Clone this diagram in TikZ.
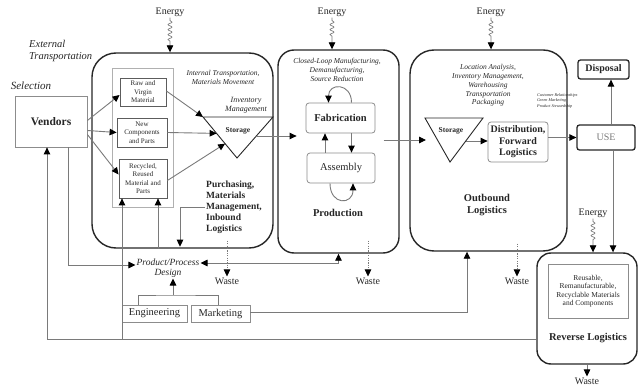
\documentclass[tikz,border=0pt]{standalone}
\usepackage{fontspec}
\setmainfont{Liberation Serif}
\usetikzlibrary{arrows.meta,positioning,calc,decorations.pathmorphing}
\definecolor{Ink}{HTML}{262626}
\definecolor{Wire}{HTML}{7A7A7A}
\definecolor{Frame}{HTML}{8C8C8C}
\definecolor{Faint}{HTML}{B0B0B0}
\tikzset{
  >={Triangle[length=7pt,width=6.5pt,color=black]},
  bigbox/.style={draw=Ink,line width=1.4pt,rounded corners=24pt,inner sep=0pt},
  subbox/.style={draw=Frame,line width=.8pt,align=center,inner sep=1pt,text=Ink,font=\fontsize{7}{8.5}\selectfont},
  softbox/.style={subbox,rounded corners=3pt,font=\fontsize{10.5}{11.5}\selectfont\bfseries},
  darkbox/.style={draw=Ink,line width=1.3pt,rounded corners=2.5pt,inner sep=1pt},
  tag/.style={align=center,inner sep=1pt,text=Ink,font=\fontsize{10}{12}\selectfont},
  note/.style={tag,font=\fontsize{7.5}{8.6}\selectfont\itshape},
  head/.style={tag,font=\fontsize{10.5}{12}\selectfont\bfseries},
  flow/.style={->,draw=Wire,line width=.9pt},
  twoway/.style={<->,draw=Wire,line width=.9pt},
  wire/.style={draw=Wire,line width=.9pt},
  wasteflow/.style={flow,line width=.6pt,dash pattern=on 1.2pt off 1.2pt},
  energyflow/.style={->,draw=Wire,line width=.7pt,decorate,
    decoration={snake,amplitude=2pt,segment length=5pt,pre length=3pt,post length=11pt}},
  plainline/.style={draw=Ink,line width=.9pt}
}
\begin{document}
\begin{tikzpicture}[x=1pt,y=-1pt]
\useasboundingbox (0,0) rectangle (644,387);
% the four stages
\node[bigbox,minimum width=181pt,minimum height=195pt] (purch) at (182.5,150.5) {};
\node[bigbox,rounded corners=16pt,minimum width=121pt,minimum height=203pt] (prod) at (338.5,151.5) {};
\node[bigbox,minimum width=157pt,minimum height=201pt] (outb) at (488.5,150.5) {};
\node[bigbox,rounded corners=14pt,minimum width=100pt,minimum height=111pt] (rev) at (587,308.5) {};

% vendors and materials
\node[subbox,font=\fontsize{11.5}{13}\selectfont\bfseries,minimum width=72pt,minimum height=51pt] (vendors) at (51,121.5) {Vendors};
\node[tag,font=\fontsize{11}{12}\selectfont\itshape] (select) at (31,86) {Selection};
\node[tag,anchor=west,align=left,font=\fontsize{10.5}{12}\selectfont\itshape] (extern) at (28,51) {External\\Transportation};
\node[draw=Faint,line width=.6pt,minimum width=61pt,minimum height=139pt] (mats) at (142.5,137.5) {};
\node[subbox,draw=Ink!75,minimum width=46pt,minimum height=28pt] (raw) at (143,92) {Raw and\\Virgin\\Material};
\node[subbox,draw=Ink!75,minimum width=50pt,minimum height=29pt] (newc) at (142,132.5) {New\\Components\\and Parts};
\node[subbox,draw=Ink!75,minimum width=48pt,minimum height=39pt] (recyc) at (143,178.5) {Recycled,\\Reused\\Material and\\Parts};
\node[note] (inttr) at (223,77.5) {Internal Transportation,\\Materials Movement};
\node[note,font=\fontsize{8}{9}\selectfont\itshape] (invm) at (246,105.5) {Inventory\\Management};
\coordinate (s1l) at (203,117);
\coordinate (s1r) at (273,117);
\coordinate (s1b) at (237,158);
\draw[plainline] (s1l) -- (s1r) -- (s1b) -- cycle;
\node[tag,font=\fontsize{7.5}{9}\selectfont\bfseries] (stor1) at (238,131) {Storage};
\node[tag,anchor=west,align=left,font=\fontsize{9.5}{11}\selectfont\bfseries] (purchtxt) at (205,207) {Purchasing,\\Materials\\Management,\\Inbound\\Logistics};

% production
\node[note] (closed) at (337,70) {Closed-Loop Manufacturing,\\Demanufacturing,\\Source Reduction};
\node[softbox,minimum width=69pt,minimum height=30pt] (fab) at (340.5,118) {Fabrication};
\node[softbox,font=\fontsize{10.5}{12}\selectfont,minimum width=68pt,minimum height=30pt] (asm) at (341,168) {Assembly};
\node[head] (prodtxt) at (338,213) {Production};

% outbound
\node[note,font=\fontsize{7.5}{8.8}\selectfont\itshape] (locan) at (488,85.5) {Location Analysis,\\Inventory Management,\\Warehousing\\Transportation\\Packaging};
\coordinate (s2l) at (425,118);
\coordinate (s2r) at (483,118);
\coordinate (s2b) at (450,162);
\draw[plainline] (s2l) -- (s2r) -- (s2b) -- cycle;
\node[tag,font=\fontsize{7.5}{9}\selectfont\bfseries] (stor2) at (451,131) {Storage};
\node[softbox,font=\fontsize{10}{11.5}\selectfont\bfseries,minimum width=60pt,minimum height=40pt] (distr) at (518,142) {Distribution,\\Forward\\Logistics};
\node[head] (outbtxt) at (487,205.5) {Outbound\\Logistics};

% use, disposal, reverse logistics
\node[darkbox,minimum width=58pt,minimum height=25pt,text=Wire,font=\fontsize{10}{12}\selectfont] (use) at (606,137.5) {USE};
\node[darkbox,minimum width=51pt,minimum height=19pt,text=Ink,font=\fontsize{10}{12}\selectfont\bfseries] (disp) at (603.5,69.5) {Disposal};
\node[tag,anchor=west,align=left,font=\fontsize{4.2}{5.5}\selectfont\itshape] (cust) at (536,100.5) {Customer Relationships\\Green Marketing\\Product Stewardship};
\node[subbox,font=\fontsize{7.5}{8.5}\selectfont,minimum width=80pt,minimum height=54pt] (revin) at (588,291) {Reusable,\\Remanufacturable,\\Recyclable Materials\\and Components};
\node[head] (revtxt) at (588,338) {Reverse Logistics};

% design, engineering, marketing
\node[tag,font=\fontsize{9.5}{10}\selectfont\itshape] (design) at (168,268) {Product/Process\\Design};
\node[subbox,font=\fontsize{10.5}{12}\selectfont,minimum width=65pt,minimum height=17pt] (eng) at (154.5,313.5) {Engineering};
\node[subbox,font=\fontsize{10.5}{12}\selectfont,minimum width=59pt,minimum height=17pt] (mkt) at (220.5,313.5) {Marketing};
\coordinate (brk) at (173,295);

% energy and waste
\node[tag] (en1) at (170,12) {Energy};
\node[tag] (en2) at (332,12) {Energy};
\node[tag] (en3) at (491,12) {Energy};
\node[tag] (en4) at (593,213) {Energy};
\draw[energyflow] (en1.south) -- (en1.south |- purch.north);
\draw[energyflow] (en2.south) -- (en2.south |- prod.north);
\draw[energyflow] (en3.south) -- (en3.south |- outb.north);
\draw[energyflow] (en4.south) -- (en4.south |- rev.north);
\node[tag] (w1) at (227,281) {Waste};
\node[tag] (w2) at (368,281) {Waste};
\node[tag] (w3) at (517,281) {Waste};
\node[tag] (w4) at (587,381) {Waste};
\draw[wasteflow] ($(w1 |- purch.south)+(0,-8)$) -- (w1.north);
\draw[wasteflow] ($(w2 |- prod.south)+(0,-13)$) -- (w2.north);
\draw[wasteflow] ($(w3 |- outb.south)+(0,-8)$) -- (w3.north);
\draw[flow] (rev.south) -- (w4.north);

% material flow
\draw[flow] ([yshift=1pt]vendors.east) -- ([yshift=-3pt]raw.west);
\draw[flow] ([yshift=-9pt]vendors.east) -- (newc.west);
\draw[flow] ([yshift=-13pt]vendors.east) -- ([yshift=4pt]recyc.west);
\draw[flow] ([yshift=1pt]raw.east) -- (s1l);
\draw[flow] (newc.east) -- ($(s1l)!.4!(s1b)$);
\draw[flow] ([yshift=-2pt]recyc.east) -- ($(s1l)!.65!(s1b)$);
\coordinate (s1out) at (256,136);
\draw[flow] (s1out) -- ([xshift=-9pt]s1out -| fab.west);
\draw[flow] ([xshift=11pt]fab.north) .. controls +(0,-20) and +(0,-20) .. ([xshift=-12pt]fab.north);
\draw[flow] ([xshift=-16pt]asm.north) -- ([xshift=-16pt]asm.north |- fab.south);
\draw[flow] ([xshift=11pt]fab.south) -- ([xshift=11pt]fab.south |- asm.north);
\draw[flow] ([xshift=-11pt]asm.south) .. controls +(0,22) and +(0,22) .. ([xshift=12pt]asm.south);
\coordinate (s2in) at (426,140);
\draw[flow] ([xshift=-16pt]s2in -| prod.east) -- (s2in);
\coordinate (s2out) at (466,141);
\draw[flow] (s2out) -- (s2out -| distr.west);
\draw[flow] (use.west -| distr.east) -- (use.west);
\draw[flow] ([xshift=5pt]use.north) -- ([xshift=5pt]use.north |- disp.south);
\draw[flow] ([xshift=7pt]use.south) -- ([xshift=7pt]use.south |- rev.north);

% design and return loops
\draw[flow] ([xshift=17pt]vendors.south) |- ([yshift=3pt]design.west);
\draw[twoway] ([yshift=5pt]design.east) -| (prod.south);
\draw[flow] (purchtxt.west) -| ([xshift=-2.5pt,yshift=2pt]purch.south);
\draw[flow] ([xshift=15pt]recyc.south |- purch.south) -- ([xshift=15pt]recyc.south);
\coordinate (loopy) at ([yshift=-30.5pt]rev.west);
\draw[flow] (loopy) -| ([xshift=-4pt]vendors.south);
\draw[flow] ([xshift=-21pt]recyc.south |- loopy) -- ([xshift=-21pt]recyc.south);
\draw[wire] ([xshift=-16.5pt]eng.north) |- (brk) -| ([xshift=-2.5pt]mkt.north);
\draw[flow] (brk) -- (brk |- design.south);
\draw[flow] ([yshift=1.5pt]mkt.east) -| ([xshift=-21.5pt]outb.south);
\end{tikzpicture}
\end{document}
